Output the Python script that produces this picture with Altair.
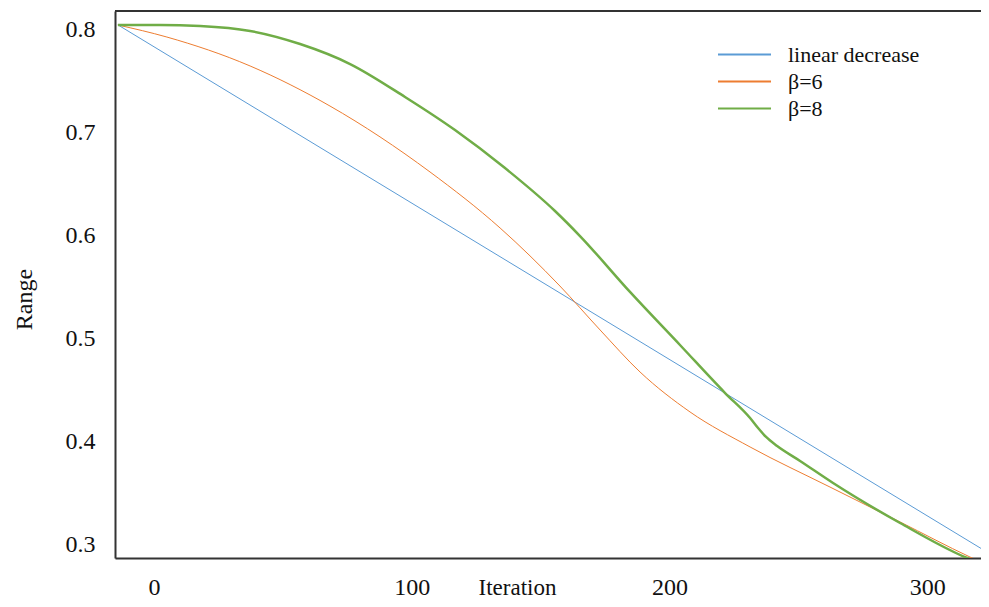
import altair as alt
import pandas as pd

series_names = ["linear decrease", "β=6", "β=8"]
series_colors = ["#5b9bd5", "#ed7d31", "#70ad47"]

x_ticks = [0, 100, 200, 300]
y_ticks = [0.3, 0.4, 0.5, 0.6, 0.7, 0.8]

linear_x = [-14, 324]
linear_y = [0.804, 0.291]

beta6_x = [-14, 5.0, 37.3, 68.3, 107.1, 134.3, 157.5, 173.1, 188.6, 208.0, 231.3, 262.3, 289.5, 316.6, 322.5]
beta6_y = [0.8039, 0.7922, 0.7641, 0.7252, 0.6612, 0.6068, 0.5505, 0.5078, 0.4670, 0.4282, 0.3942, 0.3553,
           0.3214, 0.2874, 0.2806]

beta8_x = [-14, 2.3, 17.9, 37.3, 56.7, 76.1, 97.4, 116.8, 136.2, 155.6, 165.3, 184.7, 204.1, 221.6, 231.3,
           234.4, 237.5, 241.8, 250.7, 263.5, 289.5, 315.5, 321]
beta8_y = [0.8039, 0.8039, 0.8029, 0.7981, 0.7854, 0.7660, 0.7340, 0.7019, 0.6650, 0.6233, 0.5990, 0.5447,
           0.4932, 0.4466, 0.4223, 0.4126, 0.4039, 0.3951, 0.3806, 0.3592, 0.3204, 0.2864, 0.281]

rows = []
for name, xs, ys in [(series_names[0], linear_x, linear_y),
                     (series_names[1], beta6_x, beta6_y),
                     (series_names[2], beta8_x, beta8_y)]:
    for i, (a, b) in enumerate(zip(xs, ys)):
        rows.append({"series": name, "Iteration": a, "Range": b, "order": i})
df = pd.DataFrame(rows)

W, H = 866, 547
FONT = "Liberation Serif, Times New Roman, serif"

x_enc = alt.X("Iteration:Q",
              scale=alt.Scale(domain=[-15.13, 320.9], nice=False, zero=False),
              axis=alt.Axis(values=x_ticks, title="Iteration", ticks=False, grid=False,
                            labelPadding=17, labelFontSize=24, labelFont=FONT, labelColor="#111",
                            domainColor="#333", domainWidth=2,
                            titleFont=FONT, titleFontSize=23, titleFontWeight="normal", titleColor="#111",
                            titleX=402, titleY=36, titleBaseline="alphabetic", titleAlign="center"))
y_enc = alt.Y("Range:Q",
              scale=alt.Scale(domain=[0.28641, 0.81748], nice=False, zero=False),
              axis=alt.Axis(values=y_ticks, format=".1f", title="Range", ticks=False, grid=False,
                            labelPadding=20, labelFontSize=24, labelFont=FONT, labelColor="#111",
                            domainColor="#333", domainWidth=2,
                            titleFont=FONT, titleFontSize=24, titleFontWeight="normal", titleColor="#111",
                            titleAngle=-90, titleX=-91, titleY=288, titleBaseline="middle", titleAlign="center"))
color_enc = alt.Color("series:N",
                      scale=alt.Scale(domain=series_names, range=series_colors),
                      sort=series_names,
                      legend=alt.Legend(title=None, orient="none", legendX=602, legendY=31,
                                        symbolType="stroke", symbolSize=2809, symbolStrokeWidth=2,
                                        clipHeight=25, labelOffset=16, padding=0,
                                        labelFont=FONT, labelFontSize=22, labelColor="#111"))

base = alt.Chart(df).encode(x=x_enc, y=y_enc, color=color_enc, order="order:Q")

thin = base.transform_filter(alt.datum.series != "β=8").mark_line(
    strokeWidth=1, interpolate="monotone", clip=True)
thick = base.transform_filter(alt.datum.series == "β=8").mark_line(
    strokeWidth=2.5, interpolate="monotone", clip=True)

top_border = alt.Chart(pd.DataFrame({"k": [0]})).mark_rule(color="#333", strokeWidth=2).encode(
    x=alt.value(0), x2=alt.value(W), y=alt.value(0))

chart = alt.layer(thin, thick, top_border).properties(
    width=W, height=H,
    autosize=alt.AutoSizeParams(type="none"),
    padding={"left": 107, "top": 3, "right": 0, "bottom": 41},
).configure_view(fill="#f0f0f0", stroke=None).configure(background="white")

chart.save("out.html", embed_options={"renderer": "svg", "actions": False})
